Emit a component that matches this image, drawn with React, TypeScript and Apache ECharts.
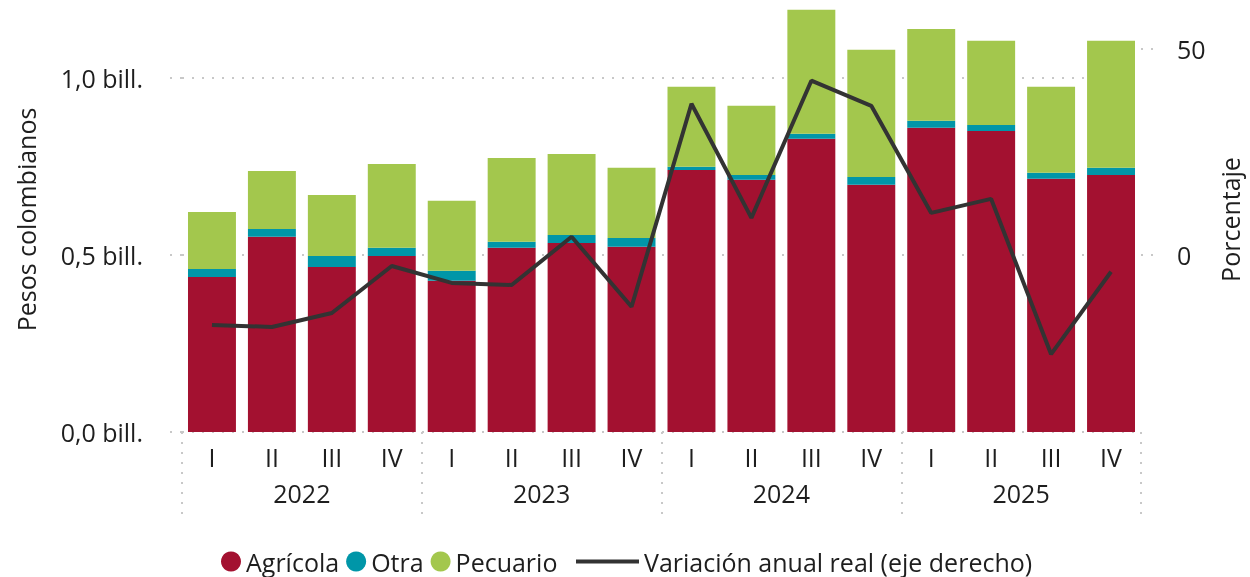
import React, { useEffect, useRef } from 'react';
import * as echarts from 'echarts';

const quarters = ['I', 'II', 'III', 'IV', 'I', 'II', 'III', 'IV', 'I', 'II', 'III', 'IV', 'I', 'II', 'III', 'IV'];
const years = ['2022', '2023', '2024', '2025'];
const agricola = [0.438, 0.551, 0.466, 0.497, 0.427, 0.52, 0.534, 0.523, 0.74, 0.712, 0.828, 0.698, 0.859, 0.85, 0.715, 0.726];
const otra = [0.022, 0.022, 0.031, 0.023, 0.028, 0.017, 0.022, 0.025, 0.009, 0.014, 0.014, 0.022, 0.02, 0.017, 0.017, 0.02];
const pecuario = [0.161, 0.164, 0.172, 0.237, 0.198, 0.237, 0.229, 0.198, 0.226, 0.195, 0.35, 0.359, 0.259, 0.238, 0.243, 0.359];
const variacion = [-17.0, -17.5, -14.1, -2.7, -6.8, -7.3, 4.4, -12.6, 36.7, 9.0, 42.3, 36.2, 10.2, 13.6, -24.1, -4.1];
const leftTicks = [0, 0.5, 1.0];
const rightTicks = [0, 50];

const FONT = 'Open Sans';
const FS = 25;
const TXT = '#1e1e1e';
const DOT = { color: '#c8c8c8', width: 2, type: [2, 8] as any };

export default function App() {
  const ref = useRef<HTMLDivElement>(null);
  useEffect(() => {
    if (!ref.current) return;
    const chart = echarts.init(ref.current, null, { renderer: 'svg' });
    chart.setOption({
      animation: false,
      textStyle: { fontFamily: FONT },
      grid: { left: 182, right: 108, top: 7, bottom: 145, containLabel: false },
      legend: [
        {
          data: ['Agrícola', 'Otra', 'Pecuario'],
          left: 221,
          top: 549,
          padding: 0,
          icon: 'circle',
          itemWidth: 20,
          itemHeight: 20,
          itemGap: 7,
          textStyle: { fontFamily: FONT, fontSize: FS, color: TXT },
        },
        {
          data: [{ name: 'Variación anual real (eje derecho)', icon: 'rect' }],
          left: 576,
          top: 549,
          padding: 0,
          itemWidth: 63,
          itemHeight: 4,
          textStyle: { fontFamily: FONT, fontSize: FS, color: TXT },
        },
      ],
      xAxis: [
        {
          type: 'category',
          data: quarters,
          position: 'bottom',
          axisLine: { show: false, onZero: false },
          axisTick: { show: false },
          axisLabel: { fontSize: FS, color: TXT, margin: 12, fontFamily: FONT },
        },
        {
          type: 'category',
          data: years,
          position: 'bottom',
          axisLine: { show: false, onZero: false },
          axisTick: { show: true, inside: false, length: 86, lineStyle: DOT },
          axisLabel: { fontSize: FS, color: TXT, margin: 48, fontFamily: FONT },
        },
      ],
      yAxis: [
        {
          type: 'value',
          min: 0,
          max: 1.2,
          name: 'Pesos colombianos',
          nameLocation: 'middle',
          nameGap: 144,
          nameTextStyle: { fontSize: FS, color: TXT, fontFamily: FONT },
          axisLine: { show: false },
          axisTick: { show: true, length: 19, lineStyle: DOT, customValues: leftTicks },
          axisLabel: {
            customValues: leftTicks,
            fontSize: FS,
            color: TXT,
            margin: 39,
            fontFamily: FONT,
            formatter: (v: number) => v.toFixed(1).replace('.', ',') + ' bill.',
          },
          splitLine: { show: true, lineStyle: DOT },
        },
        {
          type: 'value',
          min: -43,
          max: 60.2,
          name: 'Porcentaje',
          nameLocation: 'middle',
          nameGap: 76,
          nameTextStyle: { fontSize: FS, color: TXT, fontFamily: FONT },
          axisLine: { show: false },
          axisTick: { show: true, length: 18, lineStyle: DOT, customValues: rightTicks },
          axisLabel: { customValues: rightTicks, fontSize: FS, color: TXT, margin: 36, fontFamily: FONT },
          splitLine: { show: false },
        },
      ],
      series: [
        {
          name: 'Agrícola',
          type: 'bar',
          stack: 'total',
          data: agricola,
          barCategoryGap: '20%',
          itemStyle: { color: '#A31130' },
        },
        {
          name: 'Otra',
          type: 'bar',
          stack: 'total',
          data: otra,
          itemStyle: { color: '#0096A8' },
        },
        {
          name: 'Pecuario',
          type: 'bar',
          stack: 'total',
          data: pecuario,
          itemStyle: { color: '#A3C74D' },
        },
        {
          name: 'Variación anual real (eje derecho)',
          type: 'line',
          yAxisIndex: 1,
          data: variacion,
          symbol: 'none',
          lineStyle: { color: '#333333', width: 4 },
          itemStyle: { color: '#333333' },
        },
      ],
    });
    return () => chart.dispose();
  }, []);
  return <div ref={ref} style={{ position: 'fixed', left: 0, top: 0, width: 1250, height: 577 }} />;
}
